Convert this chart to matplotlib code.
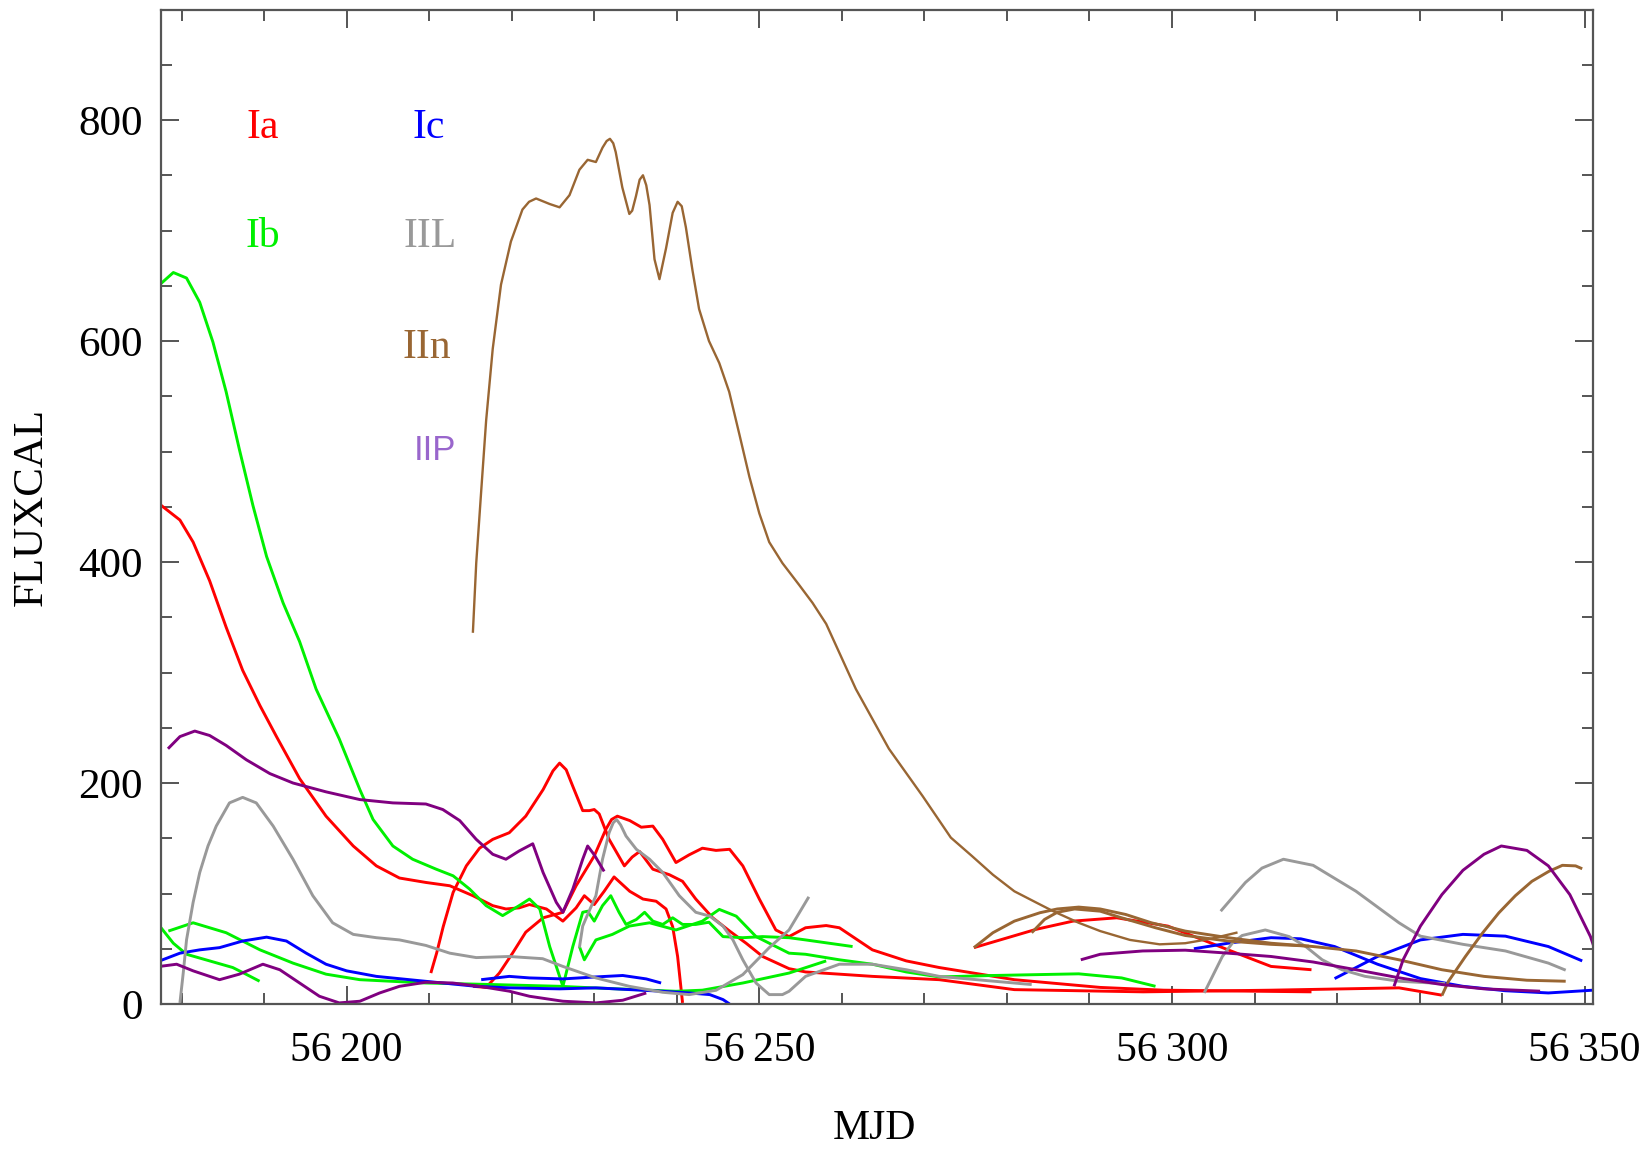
import matplotlib
matplotlib.use("Agg")
import matplotlib.pyplot as plt
from matplotlib.ticker import MultipleLocator, FuncFormatter

plt.rcParams['font.family'] = ['Liberation Serif', 'DejaVu Serif']

# ---------------- data ----------------
# Ia (red)
ia1_x = [56177.4, 56179.8, 56181.4, 56183.4, 56185.4, 56187.4, 56189.5, 56191.5, 56194.3, 56197.5,
         56200.8, 56203.6, 56206.4, 56209.6, 56212.5, 56215.3, 56217.7, 56219.3, 56220.9, 56222.15,
         56224.2, 56226.2, 56227.8, 56228.8, 56230.0, 56231.2, 56232.4, 56234.3, 56235.9, 56237.5,
         56238.7, 56239.5, 56240.1, 56240.7]
ia1_y = [452, 438, 418, 383, 341, 302, 270, 242, 204, 170,
         143, 125, 114, 110, 107, 98, 89, 86, 87, 90,
         86, 75, 87, 98, 90, 102, 115, 102, 95, 93,
         86, 70, 43, 1]
ia2_x = [56210.2, 56210.9, 56211.7, 56212.9, 56214.5, 56216.1, 56217.7, 56219.7, 56221.7, 56223.8,
         56225.0, 56225.8, 56226.6, 56227.4, 56228.6, 56229.4, 56230.0, 56230.6, 56231.8, 56233.65,
         56234.6, 56235.5, 56237.1, 56239.1, 56240.7,
         56242.3, 56244.35, 56246.4, 56248.4, 56250.4, 56253.6, 56255.6, 56259.7, 56263.7, 56271.8,
         56280.9, 56296.5, 56312.0, 56327.5, 56332.7]
ia2_y = [28, 46, 70, 101, 125, 141, 149, 155, 170, 194,
         211, 218, 212, 197, 175, 175, 176, 172, 149, 125,
         133, 138, 122, 117, 111,
         95, 78, 66, 55, 43, 32, 29, 27, 25, 22,
         13, 11, 12.5, 14.6, 8]
ia3_x = [56215.3, 56216.9, 56218.5, 56220.1, 56221.7, 56223.8, 56226.2, 56227.8, 56230.0, 56231.4,
         56232.1, 56232.8, 56234.3, 56235.7, 56237.1, 56238.3, 56239.9, 56241.5, 56243.1, 56244.75, 56246.4,
         56248.0, 56250.0, 56252.0, 56253.6, 56255.6, 56258.1, 56259.7, 56263.7, 56267.8, 56271.8,
         56280.9, 56291.3, 56299.0, 56316.9]
ia3_y = [16, 15, 28, 46, 65, 78, 83, 107, 134, 158,
         167, 170, 166, 160, 161, 149, 128, 135, 141, 139, 140,
         125, 95, 67, 61, 69, 71, 69, 49, 39, 33,
         22, 15, 12.5, 11]
ia4_x = [56276.0, 56283.5, 56288.0, 56293.3, 56299.5, 56306.8, 56312.0, 56316.9]
ia4_y = [51, 67.5, 75, 78, 70.5, 49, 34, 31]

# Ib (green)
ib1_x = [56177.35, 56179.0, 56180.6, 56182.2, 56183.8, 56185.4, 56187.0, 56188.65, 56190.3, 56192.3,
         56194.3, 56196.3, 56199.1, 56201.6, 56203.2, 56205.6, 56208.0, 56210.85, 56212.9, 56214.9,
         56216.9, 56218.9, 56220.9, 56222.15, 56223.4, 56224.6, 56226.2, 56227.4, 56228.6, 56229.2,
         56230.0, 56231.0, 56232.0, 56233.0, 56233.85, 56235.1, 56236.1, 56237.1, 56238.3, 56239.5,
         56240.7, 56242.3, 56243.9, 56245.6, 56248.0, 56250.4, 56253.6, 56255.6, 56261.3]
ib1_y = [651, 662, 657, 635, 599, 554, 502, 451, 405, 363,
         328, 285, 240, 194, 167, 143, 131, 122, 116, 104,
         89, 80, 89, 95, 86, 52, 16, 52, 83, 84,
         75, 89, 98, 83, 72, 76.5, 83, 75, 72, 78,
         72, 72, 74, 61, 60, 61, 60, 58, 52]
ib2_x = [56228.2, 56228.8, 56230.2, 56232.2, 56234.25, 56236.7, 56239.9, 56243.1, 56245.15, 56247.2,
         56249.6, 56253.6, 56255.6, 56259.7, 56263.7, 56267.8, 56271.8, 56278.3, 56288.7, 56293.9,
         56298.0]
ib2_y = [52, 40, 58, 63, 70.5, 73.5, 67, 75, 85.6, 79.5,
         61, 46, 45, 40, 36, 29, 24.5, 25.8, 27.3, 23.6,
         16]
ib3_x = [56177.35, 56179.0, 56180.6, 56183.4, 56186.2, 56187.8, 56189.45]
ib3_y = [70.5, 55, 45, 39, 33, 27, 20.6]
ib4_x = [56178.4, 56181.4, 56185.4, 56189.5, 56193.5, 56197.5, 56201.6, 56209.6, 56217.7, 56225.8,
         56230.2, 56239.9, 56243.1, 56248.0, 56253.6, 56258.1]
ib4_y = [66, 73.5, 64.5, 49, 37, 27, 22, 19, 17.6, 16,
         14.5, 11.5, 12.5, 19, 28, 39]

# Ic (blue)
ic1_x = [56177.35, 56179.8, 56182.2, 56184.6, 56187.4, 56190.3, 56192.7, 56195.1, 56197.5, 56200.0,
         56203.6, 56207.6, 56211.65, 56215.7, 56219.7, 56225.8, 56230.2, 56238.3, 56241.5, 56244.0,
         56245.6, 56246.4]
ic1_y = [39, 46, 49, 51, 57, 60.5, 57, 46, 36, 30,
         25, 22, 19, 16, 14.6, 13.7, 14.6, 11.5, 10, 8.5,
         4, 0]
ic2_x = [56216.3, 56219.7, 56222.15, 56226.2, 56230.2, 56233.45, 56236.3, 56238.1]
ic2_y = [22, 25, 23.6, 22.7, 24.5, 25.8, 22.7, 19]
ic3_x = [56302.65, 56306.8, 56312.0, 56315.6, 56319.7, 56324.9, 56330.1, 56335.25, 56340.4, 56345.6,
         56351.0]
ic3_y = [50, 55, 60, 59, 52, 36, 23, 16, 12, 10, 12.5]
ic4_x = [56319.7, 56324.9, 56330.1, 56335.25, 56340.4, 56345.6, 56349.7]
ic4_y = [23, 43, 58, 63, 61.4, 52, 39]

# IIL (grey)
iil1_x = [56179.8, 56180.2, 56180.6, 56181.4, 56182.2, 56183.2, 56184.2, 56185.8, 56187.4, 56189.05,
          56191.1, 56193.5, 56195.9, 56198.3, 56200.8, 56203.6, 56206.4, 56209.6, 56212.5, 56215.7,
          56219.7, 56223.75, 56226.2, 56230.2, 56234.25, 56238.3, 56241.5, 56244.75, 56248.0, 56251.2,
          56253.6, 56256.0]
iil1_y = [1, 28, 58, 92, 119, 143, 161, 182, 187, 182,
          161, 131, 98, 73.5, 63, 60, 58, 53, 46, 42,
          43, 41, 34, 23.6, 16, 10.6, 8.5, 12.4, 26.6, 51,
          67, 97]
iil2_x = [56228.2, 56228.6, 56229.2, 56230.2, 56231.0, 56231.8, 56232.3, 56232.7, 56233.2, 56233.85, 56235.1, 56236.7,
          56238.3, 56240.3, 56242.3, 56244.0, 56245.6, 56246.8, 56248.0, 56249.6, 56251.2, 56252.8,
          56253.6, 56255.6, 56259.7, 56263.7, 56267.8, 56271.8, 56283.0]
iil2_y = [51, 70.5, 81, 98, 131, 155, 164, 167, 162, 152, 140, 131,
          119, 98, 83, 79.5, 70.5, 58, 40, 19, 8.5, 8.5,
          11.5, 25, 36, 36, 31, 25, 17.6]
iil3_x = [56305.9, 56308.9, 56310.9, 56313.5, 56317.1, 56322.3, 56327.5, 56330.1, 56335.25, 56340.4,
          56345.6, 56347.7]
iil3_y = [84, 110, 123, 131, 125.5, 102, 73.5, 61.4, 54, 48, 37, 30.6]
iil4_x = [56303.9, 56304.9, 56306.1, 56307.3, 56308.5, 56311.3, 56314.2, 56316.2, 56318.2, 56320.6,
          56323.4, 56327.5, 56331.5, 56333.1]
iil4_y = [10, 25, 43, 55, 62, 67, 61, 52, 40, 31, 25, 20.6, 19, 18.5]

# IIn (brown)
iin1_x = [56215.3, 56215.7, 56216.3, 56216.9, 56217.7, 56218.7, 56219.9, 56221.3, 56222.1, 56222.95, 56224.6,
          56225.8, 56227.0, 56228.2, 56229.2, 56230.2, 56231.0, 56231.5, 56231.9, 56232.3, 56232.6, 56233.4, 56234.25,
          56234.6, 56235.05, 56235.5, 56235.9, 56236.3, 56236.7, 56237.3, 56237.9, 56238.7, 56239.5, 56240.1, 56240.6,
          56241.1, 56241.9, 56242.7, 56243.9, 56245.15, 56246.35, 56247.6, 56248.8, 56250.0, 56251.2, 56252.8, 56254.8,
          56256.45, 56258.1, 56261.7, 56265.7, 56269.8, 56273.2, 56275.75, 56278.3, 56280.9, 56283.5,
          56285.6, 56288.7, 56291.3, 56294.9, 56298.5, 56301.6, 56304.7, 56307.8]
iin1_y = [337, 399, 464, 528, 593, 651, 690, 719, 726, 729, 724,
          721, 732, 755, 764, 762, 775, 781, 783, 779, 771, 739, 715,
          718, 731, 746, 750, 741, 723, 674, 656, 684, 716, 726, 722,
          703, 664, 629, 600, 580, 554, 515, 477, 444, 418, 399, 379.5,
          363, 344, 285, 231, 188, 150.6, 134, 117, 102, 92,
          84, 73.5, 66, 58, 54, 55, 59, 64.5]
iin2_x = [56276.0, 56278.3, 56280.9, 56284.0, 56286.1, 56288.7, 56291.3, 56294.4, 56297.5, 56301.6,
          56306.8, 56312.0, 56317.1, 56322.3, 56327.5, 56332.7, 56337.8, 56343.0, 56347.7]
iin2_y = [51, 64.5, 75, 82.6, 86, 87.7, 86, 81, 73.5, 66,
          60, 55, 52, 48, 40, 31, 25, 21.5, 20.6]
iin3_x = [56283.0, 56284.55, 56286.1, 56288.2, 56291.3, 56293.9, 56298.0, 56301.6, 56306.8, 56312.0,
          56316.6]
iin3_y = [64.5, 76.5, 83, 86, 84, 78, 69, 62, 57, 54, 52.4]
iin4_x = [56332.7, 56333.5, 56335.55, 56337.6, 56339.6, 56341.6, 56343.6, 56345.65, 56347.3, 56348.9,
          56349.7]
iin4_y = [7.6, 20.6, 43, 64, 82.5, 98, 111, 120, 125.5, 125, 122.4]

# IIP (purple)
iip1_x = [56178.35, 56179.8, 56181.6, 56183.4, 56185.4, 56187.85, 56190.7, 56193.5, 56197.5, 56201.6,
          56205.6, 56209.6, 56211.65, 56213.7, 56215.7, 56217.7, 56219.3, 56220.9, 56222.55, 56223.8,
          56225.4, 56226.2, 56227.4, 56228.6, 56229.2, 56230.0, 56231.2]
iip1_y = [231, 242, 247, 243, 234, 221, 208.5, 200, 192, 185,
          182, 181, 176, 166, 149, 135.5, 131, 138.5, 145, 119,
          92, 83, 104, 131, 143, 135, 120]
iip2_x = [56177.35, 56179.4, 56181.4, 56184.6, 56187.0, 56189.85, 56191.9, 56194.3, 56196.7, 56199.1,
          56201.6, 56204.0, 56206.4, 56209.6, 56212.85, 56216.1, 56219.7, 56222.15, 56226.2, 56230.2,
          56233.45, 56236.3]
iip2_y = [34, 36, 30, 22, 27, 36, 31, 19, 7, 1,
          2.5, 10, 16, 19.7, 19, 16, 11.6, 7, 2.5, 1,
          3.4, 10]
iip3_x = [56288.95, 56291.3, 56296.45, 56301.6, 56306.8, 56312.0, 56317.1, 56322.3, 56327.5, 56332.7,
          56337.8, 56344.6]
iip3_y = [40, 45, 48, 48.7, 46, 43, 38, 31, 23.7, 17.6, 13.7, 11.6]
iip4_x = [56326.9, 56328.0, 56330.1, 56332.7, 56335.25, 56337.8, 56339.9, 56343.0, 56345.6, 56348.2,
          56350.7, 56351.2]
iip4_y = [16, 40, 70.5, 99, 121, 135.5, 143, 139, 125, 99, 61, 50]

# legend-like labels
type_labels = ["Ia", "Ic", "Ib", "IIL", "IIn", "IIP"]
label_x = [56189.8, 56209.9, 56189.9, 56210.1, 56209.7, 56210.7]
label_y = [793, 793, 694, 694, 594, 501]

x_major_ticks = [56200, 56250, 56300, 56350]
y_major_ticks = [0, 200, 400, 600, 800]

# ---------------- styling ----------------
RED, GREEN, BLUE, GREY, BROWN, PURPLE = '#ff0000', '#00f000', '#0000ff', '#999999', '#996633', '#800080'
label_colors = [RED, BLUE, GREEN, GREY, BROWN, '#9966cc']

series = [
    (ia1_x, ia1_y, RED), (ia2_x, ia2_y, RED), (ia3_x, ia3_y, RED), (ia4_x, ia4_y, RED),
    (ib1_x, ib1_y, GREEN), (ib2_x, ib2_y, GREEN), (ib3_x, ib3_y, GREEN), (ib4_x, ib4_y, GREEN),
    (ic1_x, ic1_y, BLUE), (ic2_x, ic2_y, BLUE), (ic3_x, ic3_y, BLUE), (ic4_x, ic4_y, BLUE),
    (iil1_x, iil1_y, GREY), (iil2_x, iil2_y, GREY), (iil3_x, iil3_y, GREY), (iil4_x, iil4_y, GREY),
    (iin2_x, iin2_y, BROWN), (iin3_x, iin3_y, BROWN), (iin4_x, iin4_y, BROWN),
    (iip1_x, iip1_y, PURPLE), (iip2_x, iip2_y, PURPLE), (iip3_x, iip3_y, PURPLE), (iip4_x, iip4_y, PURPLE),
]

fig = plt.figure(figsize=(16.49, 11.49), dpi=100)
ax = fig.add_axes([0.0976, 0.1262, 0.8684, 0.8655])

for xs, ys, c in series:
    ax.plot(xs, ys, color=c, lw=2.1, solid_capstyle='butt', solid_joinstyle='round')
ax.plot(iin1_x, iin1_y, color=BROWN, lw=1.7, solid_joinstyle='round')

for t, tx, ty, c in zip(type_labels, label_x, label_y, label_colors):
    if t == "IIP":
        ax.text(tx, ty, t, color=c, fontsize=25, ha='center', va='center',
                family=['Liberation Sans', 'DejaVu Sans'])
    else:
        ax.text(tx, ty, t, color=c, fontsize=30, ha='center', va='center')

ax.set_xlim(56177.5, 56351.0)
ax.set_ylim(0, 900)
ax.set_xticks(x_major_ticks)
ax.set_yticks(y_major_ticks)
ax.xaxis.set_minor_locator(MultipleLocator(10))
ax.yaxis.set_minor_locator(MultipleLocator(50))
ax.xaxis.set_major_formatter(FuncFormatter(lambda v, p: f"{int(round(v)):,}".replace(",", "\u2009")))

spine_c = '#555555'
for s in ax.spines.values():
    s.set_color(spine_c)
    s.set_linewidth(1.6)
ax.tick_params(which='both', direction='in', top=True, right=True, colors=spine_c,
               labelcolor='black', width=1.4)
ax.tick_params(which='major', length=13)
ax.tick_params(which='minor', length=8)
ax.tick_params(axis='x', which='major', labelsize=30, pad=20)
ax.tick_params(axis='y', which='major', labelsize=31, pad=13)

ax.set_xlabel("MJD", fontsize=30)
ax.set_ylabel("FLUXCAL", fontsize=31)
ax.xaxis.set_label_coords(0.4986, -0.1252)
ax.xaxis.label.set_verticalalignment('center')
ax.yaxis.set_label_coords(-0.0904, 0.4997)
ax.yaxis.label.set_rotation_mode('default')
ax.yaxis.label.set_verticalalignment('center')
ax.yaxis.label.set_horizontalalignment('center')

fig.savefig("out.png", dpi=100)
